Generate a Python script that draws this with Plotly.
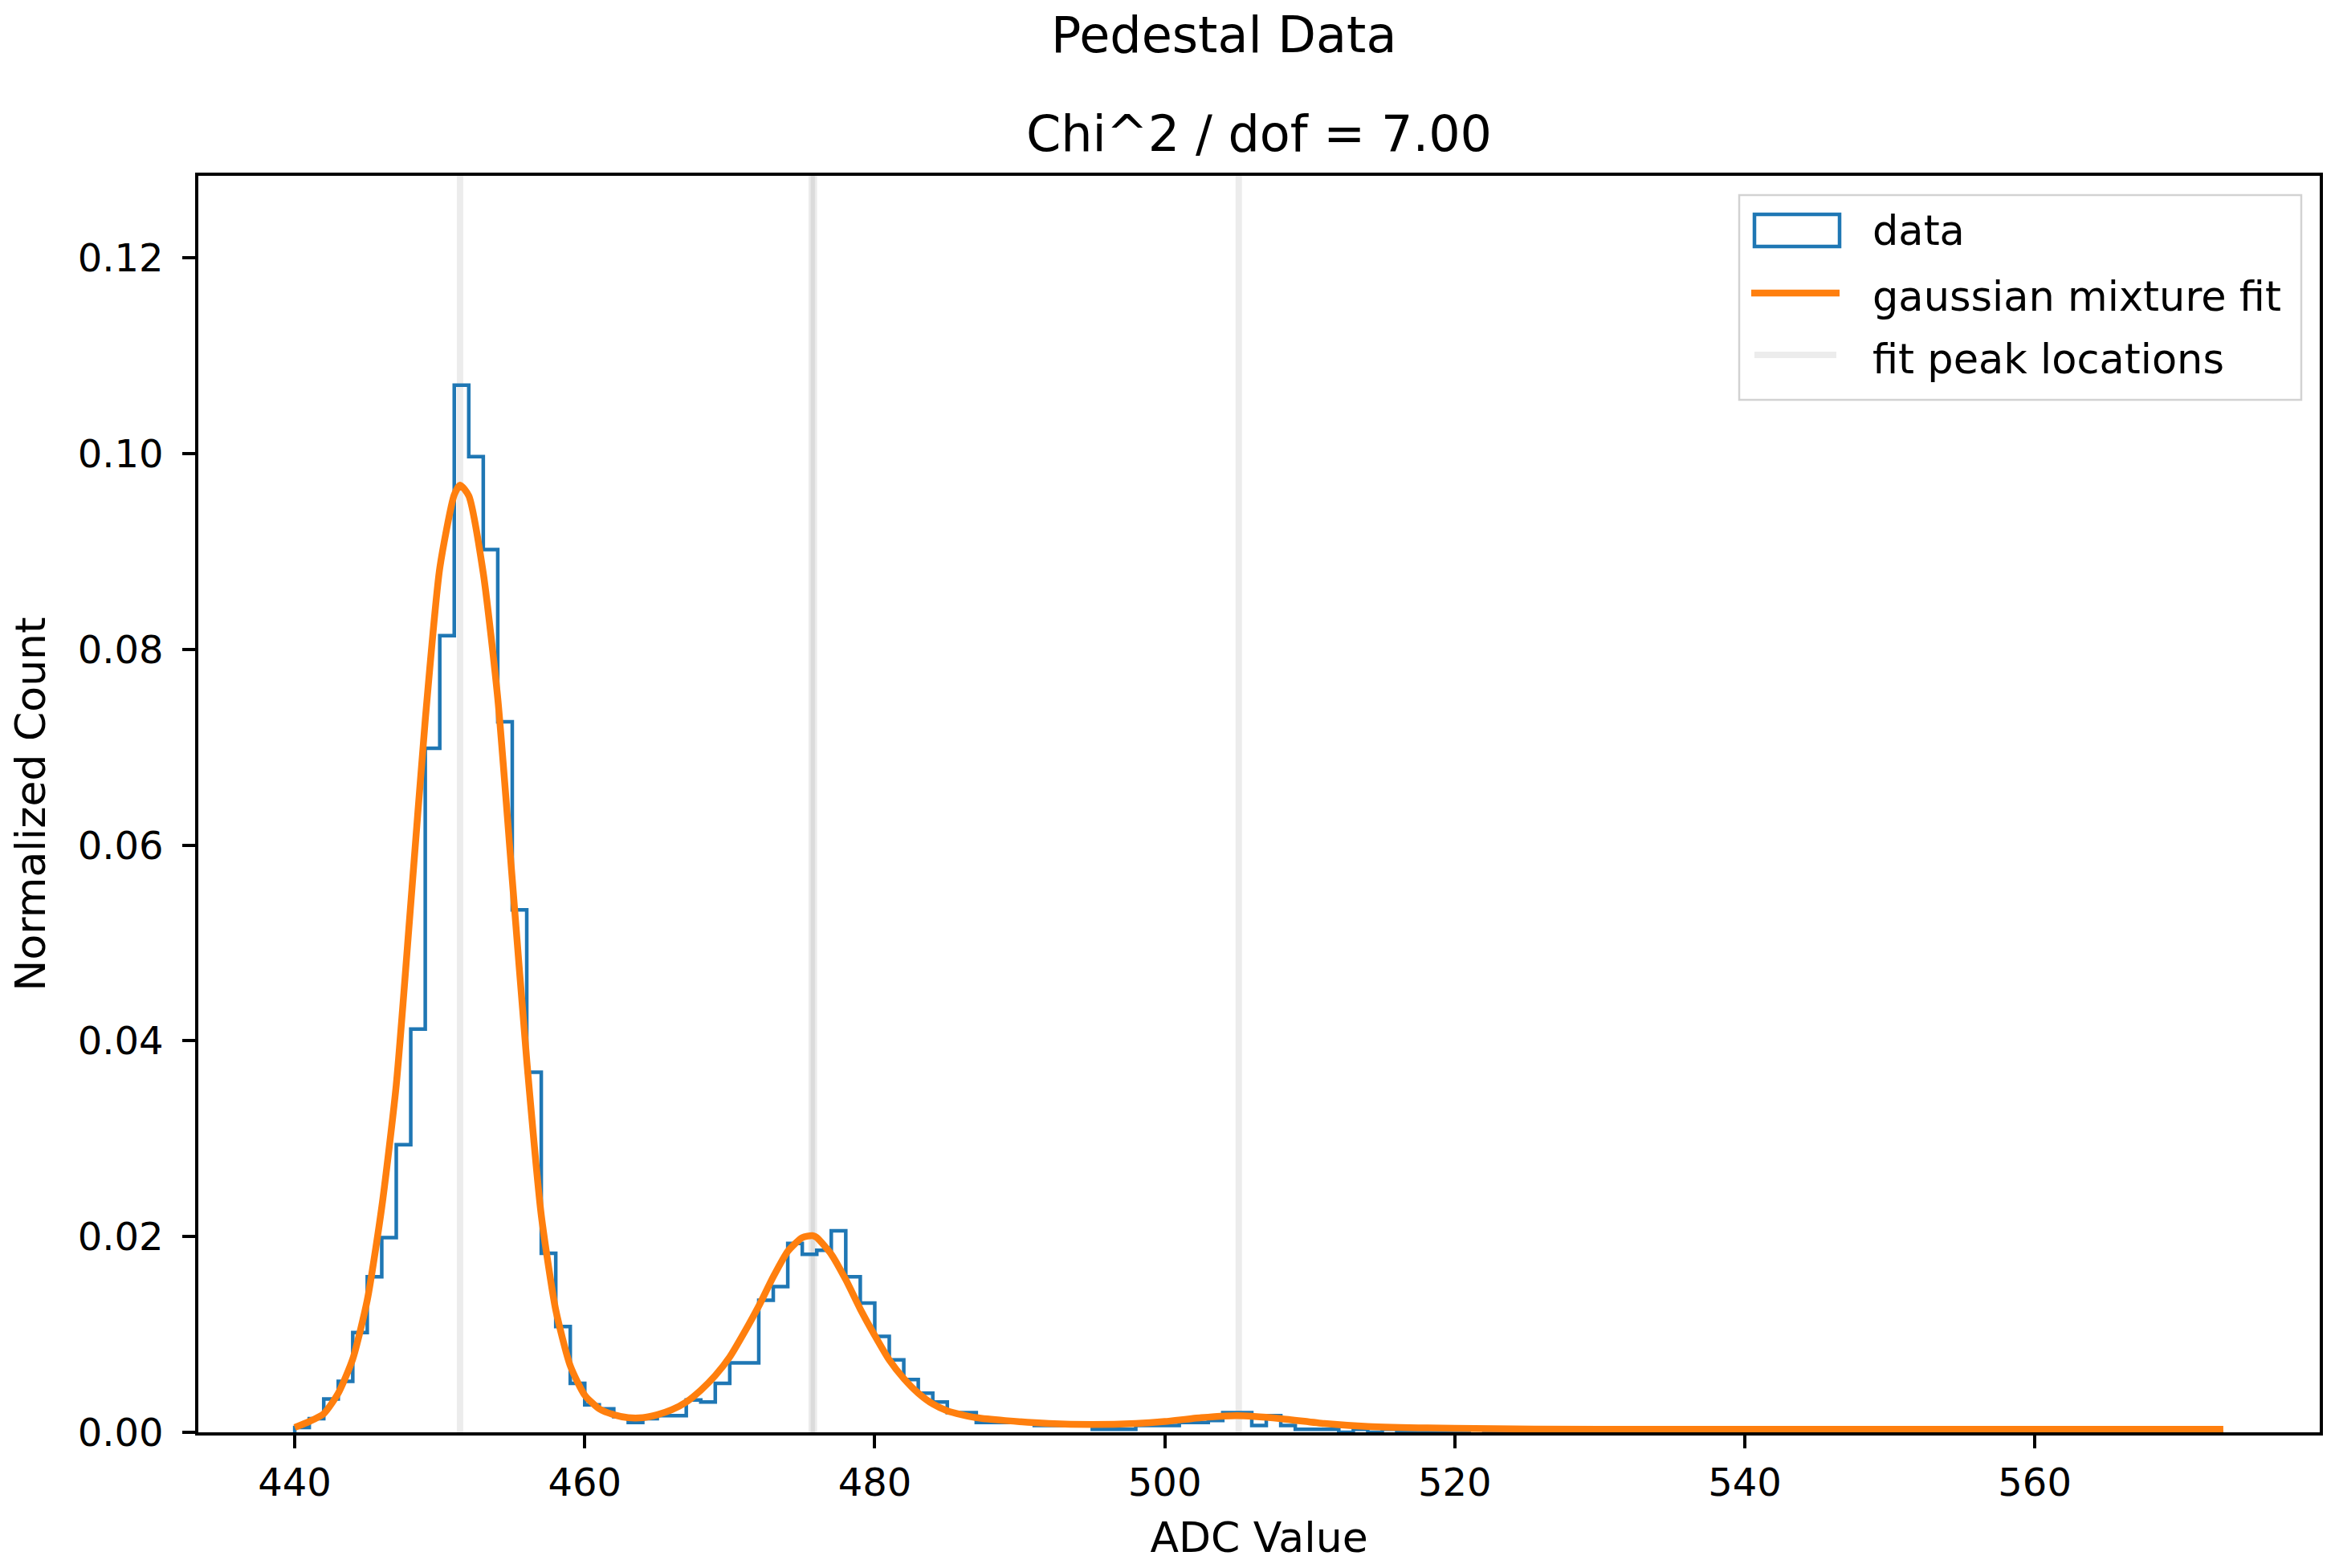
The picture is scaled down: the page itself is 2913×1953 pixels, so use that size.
import plotly.graph_objects as go

# histogram: left edges of 1-ADC wide bins, normalized counts
bin_left = list(range(440, 573))
bin_width = 1
hist_vals = [
    0.0005, 0.0014, 0.0034, 0.0052, 0.0102, 0.0159, 0.0199, 0.0294, 0.0412, 0.0699,
    0.0814, 0.1070, 0.0997, 0.0902, 0.0726, 0.0534, 0.0368, 0.0183, 0.0108, 0.0050,
    0.0028, 0.0024, 0.0016, 0.0010, 0.0014, 0.0017, 0.0017, 0.0033, 0.0031, 0.0050,
    0.0071, 0.0071, 0.0135, 0.0149, 0.0193, 0.0182, 0.0186, 0.0206, 0.0159, 0.0132,
    0.0098, 0.0074, 0.0054, 0.0040, 0.0031, 0.0020, 0.0020, 0.0010, 0.0010, 0.0010,
    0.0010, 0.0007, 0.0007, 0.0007, 0.0007, 0.0003, 0.0003, 0.0003, 0.0007, 0.0007,
    0.0007, 0.0010, 0.0010, 0.0012, 0.0020, 0.0020, 0.0007, 0.0017, 0.0007, 0.0003,
    0.0003, 0.0003, 0, 0.0003, 0, 0.0003, 0, 0, 0, 0,
    0, 0.0003, 0, 0, 0, 0, 0.0004, 0.0004, 0.0004, 0.0004,
    0, 0, 0.0004, 0.0004, 0.0004, 0, 0, 0.0004, 0.0004, 0.0004,
    0.0004, 0.0004, 0.0004, 0, 0, 0, 0, 0.0004, 0, 0,
    0, 0, 0, 0.0004, 0, 0, 0, 0, 0, 0,
    0, 0, 0.0004, 0, 0, 0, 0.0004, 0, 0, 0,
    0, 0, 0,
]

# gaussian mixture fit
fit_x = [440, 441, 442, 443, 444, 445, 446, 447, 448, 449, 450, 451, 451.4, 452, 453,
         454, 455, 456, 457, 458, 459, 460, 461, 462, 463, 464, 465, 466, 467, 468,
         469, 470, 471, 472, 473, 474, 475, 475.7, 476, 477, 478, 479, 480, 481, 482,
         483, 484, 485, 486, 487, 489, 492, 495, 498, 500, 502.5, 505, 508, 511, 514,
         520, 530, 573]
fit_y = [0.0005, 0.0011, 0.0019, 0.0040, 0.0075, 0.0135, 0.0230, 0.0355, 0.0540, 0.0728,
         0.0883, 0.0958, 0.0968, 0.0957, 0.0878, 0.0750, 0.0565, 0.0380, 0.0222, 0.0125,
         0.0068, 0.0038, 0.0024, 0.0018, 0.0015, 0.0015, 0.0018, 0.0023, 0.0031, 0.0043,
         0.0058, 0.0077, 0.0102, 0.0129, 0.0159, 0.0185, 0.0199, 0.0201, 0.0199, 0.0182,
         0.0156, 0.0126, 0.0099, 0.0074, 0.0055, 0.0040, 0.0029, 0.0022, 0.0018, 0.0015,
         0.0012, 0.0009, 0.0008, 0.0009, 0.0011, 0.0015, 0.0017, 0.0014, 0.0009, 0.0006,
         0.0004, 0.0003, 0.0003]

peak_x = [451.4, 475.65, 475.8, 505.1]

y_top = 0.1284
FONT = "DejaVu Sans"

fig = go.Figure()

# fit peak locations (vertical lines spanning the axes)
vx, vy = [], []
for p in peak_x:
    vx += [p, p, None]
    vy += [0, y_top, None]
fig.add_trace(go.Scatter(x=vx, y=vy, mode="lines", name="fit peak locations",
                         line=dict(color="rgba(128,128,128,0.15)", width=8),
                         hoverinfo="skip", showlegend=False))

# step histogram outline
edge_last = bin_left[-1] + bin_width
sx = [bin_left[0]] + bin_left + [edge_last]
sy = [0] + hist_vals + [0]
fig.add_trace(go.Scatter(x=sx, y=sy, mode="lines", line_shape="hv", name="data",
                         line=dict(color="#1f77b4", width=4.5), showlegend=False))

fig.add_trace(go.Scatter(x=fit_x, y=fit_y, mode="lines", name="gaussian mixture fit",
                         line=dict(color="#ff7f0e", width=8.5, shape="spline", smoothing=0.6),
                         showlegend=False))

# hand-built legend in the matplotlib style (page pixels -> paper coords)
def px(x):
    return (x - 247) / 2642


def py(y):
    return (1784 - y) / 1565


shapes = [
    dict(type="rect", xref="paper", yref="paper", x0=px(2166), x1=px(2866),
         y0=py(498), y1=py(243), line=dict(color="#d2d2d2", width=2.5),
         fillcolor="rgba(255,255,255,0.8)", layer="above"),
    dict(type="rect", xref="paper", yref="paper", x0=px(2185), x1=px(2291),
         y0=py(307), y1=py(267), line=dict(color="#1f77b4", width=4.5),
         fillcolor="white", layer="above"),
    dict(type="line", xref="paper", yref="paper", x0=px(2181), x1=px(2291),
         y0=py(365), y1=py(365), line=dict(color="#ff7f0e", width=8.5), layer="above"),
    dict(type="line", xref="paper", yref="paper", x0=px(2185), x1=px(2287),
         y0=py(442), y1=py(442), line=dict(color="rgba(128,128,128,0.15)", width=8),
         layer="above"),
]
legend_labels = ["data", "gaussian mixture fit", "fit peak locations"]
legend_y = [287, 369, 447]
annotations = [
    dict(text=t, xref="paper", yref="paper", x=px(2330), y=py(yy), xanchor="left",
         yanchor="middle", showarrow=False, font=dict(family=FONT, size=51, color="black"))
    for t, yy in zip(legend_labels, legend_y)
]
annotations.append(dict(text="Chi^2 / dof = 7.00", xref="paper", yref="paper", x=0.5,
                        y=py(167), xanchor="center", yanchor="middle", showarrow=False,
                        font=dict(family=FONT, size=62, color="black")))
annotations.append(dict(text="Pedestal Data", xref="paper", yref="paper", x=px(1524),
                        y=py(44), xanchor="center", yanchor="middle", showarrow=False,
                        font=dict(family=FONT, size=62, color="black")))

# the page body adds an 8 px offset, margins are compensated for it
fig.update_layout(
    width=2913, height=1953,
    margin=dict(l=239, r=32, t=211, b=177),
    paper_bgcolor="white", plot_bgcolor="white",
    font=dict(family=FONT, color="black", size=48),
    shapes=shapes, annotations=annotations,
    xaxis=dict(range=[433.35, 579.65], tickmode="linear", tick0=440, dtick=20,
               showgrid=False, zeroline=False, showline=True, linecolor="black",
               linewidth=3.7, mirror=True, ticks="outside", ticklen=16, tickwidth=3.7,
               tickcolor="black", ticklabelstandoff=2, tickfont=dict(size=48),
               title=dict(text="ADC Value", standoff=24, font=dict(size=52))),
    yaxis=dict(range=[0, y_top], tickmode="linear", tick0=0, dtick=0.02, tickformat=".2f",
               showgrid=False, zeroline=False, showline=True, linecolor="black",
               linewidth=3.7, mirror=True, ticks="outside", ticklen=16, tickwidth=3.7,
               tickcolor="black", ticklabelstandoff=14, tickfont=dict(size=48),
               title=dict(text="Normalized Count", standoff=30, font=dict(size=52))),
)

fig.write_html("out.html")
